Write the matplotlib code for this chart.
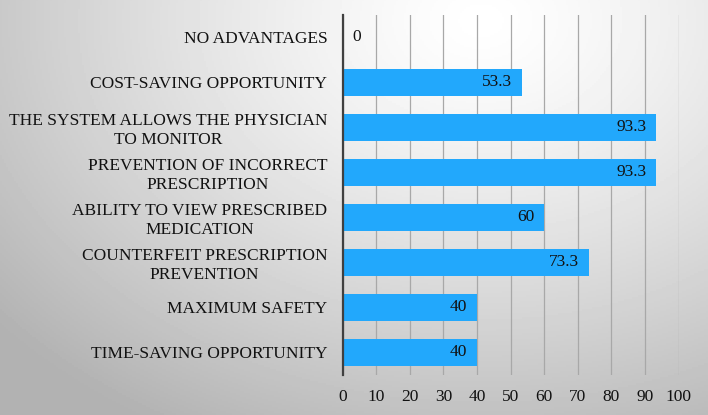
import matplotlib
matplotlib.use("Agg")
import matplotlib.pyplot as plt
from matplotlib import font_manager
import numpy as np

categories = ['TIME-SAVING OPPORTUNITY', 'MAXIMUM SAFETY',
              'COUNTERFEIT PRESCRIPTION\nPREVENTION',
              'ABILITY TO VIEW PRESCRIBED\nMEDICATION',
              'PREVENTION OF INCORRECT\nPRESCRIPTION',
              'THE SYSTEM ALLOWS THE PHYSICIAN\nTO MONITOR',
              'COST-SAVING OPPORTUNITY', 'NO ADVANTAGES']
values = [40, 40, 73.3, 60, 93.3, 93.3, 53.3, 0]
value_labels = ['40', '40', '73.3', '60', '93.3', '93.3', '53.3', '0']
xticks = [0, 10, 20, 30, 40, 50, 60, 70, 80, 90, 100]

# pick a Times-like font file directly
path = None
for want in ['Liberation Serif', 'TeX Gyre Termes', 'FreeSerif', 'DejaVu Serif']:
    for f in font_manager.fontManager.ttflist:
        if f.name == want and f.style == 'normal' and f.weight in (400, 'normal', 'regular', 'book'):
            path = f.fname
            break
    if path:
        break
fp = font_manager.FontProperties(fname=path, size=12.5)

fig = plt.figure(figsize=(7.08, 4.15), dpi=100)

# radial grey background
bg = fig.add_axes([0, 0, 1, 1], zorder=0)
gx, gy = np.meshgrid(np.linspace(0, 1, 354), np.linspace(0, 1, 208))
r = np.sqrt(((gx - 0.68) / 0.75) ** 2 + ((gy - 0.05) / 0.95) ** 2)
shade = 1.0 - 0.24 * np.clip(r, 0, 1.2) ** 1.3
bg.imshow(shade, cmap='gray', vmin=0, vmax=1, aspect='auto', extent=[0, 1, 1, 0])
bg.axis('off')

ax = fig.add_axes([0.484, 0.0964, 0.4745, 0.8675], zorder=1)
ax.patch.set_alpha(0)
y = np.arange(len(categories))
bars = ax.barh(y, values, height=0.58, color='#22a8fc', zorder=2)

for yi, v, lab in zip(y, values, value_labels):
    if v > 0:
        ax.annotate(lab, (v, yi), xytext=(-7, 0), textcoords='offset points',
                    ha='right', va='center', fontproperties=fp, color='#111111', zorder=3)
    else:
        ax.annotate(lab, (v, yi), xytext=(7, 0), textcoords='offset points',
                    ha='left', va='center', fontproperties=fp, color='#111111', zorder=3)

ax.set_xlim(0, 100)
ax.set_ylim(-0.5, len(categories) - 0.5)
ax.set_xticks(xticks)
ax.set_xticklabels([str(t) for t in xticks], fontproperties=fp)
ax.set_yticks(y)
ax.set_yticklabels(categories, multialignment='center', fontproperties=fp)
ax.tick_params(axis='both', length=0, colors='#111111')
ax.tick_params(axis='y', pad=11)
ax.tick_params(axis='x', pad=10)
ax.grid(axis='x', color='#a8a8a8', linewidth=0.9, zorder=1)
ax.set_axisbelow(True)
for s in ['top', 'right', 'bottom']:
    ax.spines[s].set_visible(False)
ax.spines['left'].set_color('#404040')
ax.spines['left'].set_linewidth(1.6)
ax.spines['left'].set_zorder(4)

fig.savefig('out.png', dpi=100)
